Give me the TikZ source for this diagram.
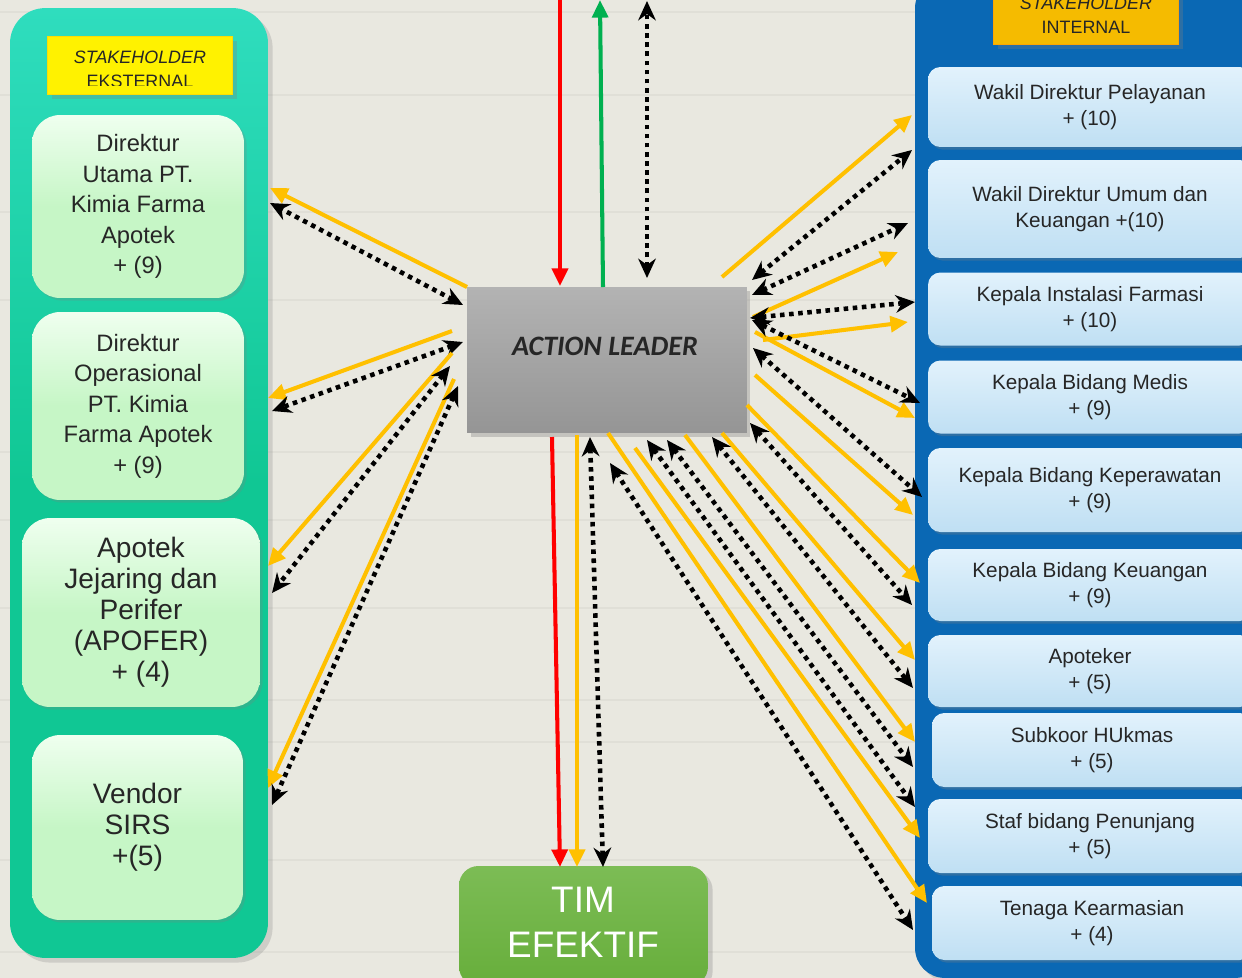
\documentclass[tikz,border=0pt]{standalone}
\usepackage{fontspec}
\setmainfont{Liberation Sans}
\newfontfamily\carlito{Carlito}
\usetikzlibrary{arrows.meta,calc,shadows}
\definecolor{bgc}{HTML}{E9E8E0}
\definecolor{woodline}{HTML}{E0DFD7}
\definecolor{lpanel}{HTML}{10C794}
\definecolor{lpaneltop}{HTML}{2FDDBE}
\definecolor{lboxc}{HTML}{C6F6C6}
\definecolor{lboxtop}{HTML}{EFFFEF}
\definecolor{rpanel}{HTML}{0A68B4}
\definecolor{rboxc}{HTML}{BFDFF3}
\definecolor{rboxtop}{HTML}{E2F2FC}
\definecolor{goldc}{HTML}{F5BB00}
\definecolor{labyel}{HTML}{FFF200}
\definecolor{arryel}{HTML}{FFC000}
\definecolor{altop}{HTML}{B3B3B3}
\definecolor{albot}{HTML}{959595}
\definecolor{timc}{HTML}{67AE3B}
\definecolor{timtop}{HTML}{7CBC55}
\definecolor{arrred}{HTML}{FF0000}
\definecolor{arrgreen}{HTML}{00B050}
\tikzset{
  lbox/.style={draw=none, rounded corners=16pt, top color=lboxtop, bottom color=lboxc, middle color=lboxc,
     align=center, font=\fontsize{13.5}{17.4}\selectfont, text=black!85,
     drop shadow={opacity=0.25, shadow xshift=1.5pt, shadow yshift=-1.5pt}},
  rbox/.style={draw=none, rounded corners=7pt, top color=rboxtop, bottom color=rboxc,
     align=center, font=\fontsize{11.8}{14.7}\selectfont, text=black!85,
     drop shadow={opacity=0.3, shadow xshift=1.5pt, shadow yshift=-1.5pt}},
  yarr/.style={draw=arryel, line width=2.3pt, arrows={-Triangle[length=10pt,width=9pt]}},
  darr/.style={draw=black, line width=2.6pt, dash pattern=on 2.6pt off 2.6pt,
     arrows={Stealth[length=11pt,width=10pt]-Stealth[length=11pt,width=10pt]}},
  rarr/.style={draw=arrred, line width=2.3pt, arrows={-Triangle[length=10pt,width=9pt]}},
  garr/.style={draw=arrgreen, line width=2.3pt, arrows={-Triangle[length=10pt,width=9pt]}}
}
\begin{document}
\begin{tikzpicture}[x=0.02cm,y=-0.02cm]
\clip (0,0) rectangle (1242,978);
\fill[bgc] (0,0) rectangle (1242,978);
\foreach \yy in {12,95,212,300,452,520,608,700,742,860,952}
  \draw[woodline, line width=1.2pt] (0,\yy) -- (1242,\yy);

% left panel
\node[draw=none, rounded corners=20pt, top color=lpaneltop, bottom color=lpanel, middle color=lpanel,
  minimum width=5.16cm, minimum height=19cm, drop shadow={opacity=0.25}] (lp) at (139,483) {};
% right panel
\node[draw=none, rounded corners=17pt, fill=rpanel, minimum width=7cm, minimum height=20cm,
  drop shadow={opacity=0.25}] (rp) at (1090,478) {};

% left label
\node[fill=labyel, draw=yellow!80!orange, minimum width=3.7cm, minimum height=1.16cm,
  drop shadow={opacity=0.3}] (ll) at (139.5,65) {};
\begin{scope}
\clip (48,37) rectangle (231,85);
\node[align=center, font=\fontsize{10.2}{13.8}\selectfont, text=black!85] (llt) at (140,69)
  {\itshape STAKEHOLDER\\ EKSTERNAL};
\end{scope}
% right label
\node[fill=goldc, draw=orange!70!yellow, minimum width=3.7cm, minimum height=1.2cm,
  drop shadow={opacity=0.3}] (rl) at (1085.5,14) {};
\node[align=center, font=\fontsize{10.2}{13.8}\selectfont, text=black!85] (rlt) at (1086,15)
  {\itshape STAKEHOLDER\\ INTERNAL};

% left boxes
\node[lbox, minimum width=4.24cm, minimum height=3.66cm] (e1) at (138,206.5)
  {Direktur\\ Utama PT.\\ Kimia Farma\\ Apotek\\ + (9)};
\node[lbox, minimum width=4.24cm, minimum height=3.76cm] (e2) at (138,406)
  {Direktur\\ Operasional\\ PT. Kimia\\ Farma Apotek\\ + (9)};
\node[lbox, minimum width=4.76cm, minimum height=3.78cm, font=\fontsize{16}{17.6}\selectfont] (e3) at (141,612.5)
  {Apotek\\ Jejaring dan\\ Perifer\\ (APOFER)\\ + (4)};
\node[lbox, minimum width=4.22cm, minimum height=3.7cm, font=\fontsize{16}{17.6}\selectfont] (e4) at (137.5,827.5)
  {Vendor\\ SIRS\\ +(5)};

% right boxes
\node[rbox, minimum width=6.48cm, minimum height=1.6cm] (i1) at (1090,107) {Wakil Direktur Pelayanan\\ + (10)};
\node[rbox, minimum width=6.48cm, minimum height=1.96cm] (i2) at (1090,209) {Wakil Direktur Umum dan\\ Keuangan +(10)};
\node[rbox, minimum width=6.48cm, minimum height=1.46cm] (i3) at (1090,309) {Kepala Instalasi Farmasi\\ + (10)};
\node[rbox, minimum width=6.48cm, minimum height=1.46cm] (i4) at (1090,397) {Kepala Bidang Medis\\ + (9)};
\node[rbox, minimum width=6.48cm, minimum height=1.68cm] (i5) at (1090,490) {Kepala Bidang Keperawatan\\ + (9)};
\node[rbox, minimum width=6.48cm, minimum height=1.44cm] (i6) at (1090,585) {Kepala Bidang Keuangan\\ + (9)};
\node[rbox, minimum width=6.48cm, minimum height=1.44cm] (i7) at (1090,671) {Apoteker\\ + (5)};
\node[rbox, minimum width=6.4cm, minimum height=1.48cm] (i8) at (1092,750) {Subkoor HUkmas\\ + (5)};
\node[rbox, minimum width=6.48cm, minimum height=1.48cm] (i9) at (1090,836) {Staf bidang Penunjang\\ + (5)};
\node[rbox, minimum width=6.4cm, minimum height=1.48cm] (i10) at (1092,923) {Tenaga Kearmasian\\ + (4)};

% action leader
\node[draw=none, top color=altop, bottom color=albot, minimum width=5.6cm, minimum height=2.92cm,
  drop shadow={opacity=0.35, shadow xshift=2pt, shadow yshift=-2pt}] (al) at (607,360) {};
\node[font=\carlito\bfseries\itshape\fontsize{16}{18}\selectfont, text=black!85] (alt) at (605,346) {ACTION LEADER};

% tim efektif
\node[draw=none, rounded corners=11pt, top color=timtop, bottom color=timc, minimum width=4.98cm, minimum height=2.4cm,
  drop shadow={opacity=0.3}] (tim) at (583.5,926) {};
\node[align=center, font=\fontsize{21}{25.5}\selectfont, text=white] (timt) at (583,922) {TIM\\ EFEKTIF};

% connectors
\foreach \n/\st/\sx/\sy/\ex/\ey in {
  yl1/yarr/467/287/270/188, dl1/darr/463/305/270/203,
  yl2/yarr/452/331/268/398, dl2/darr/463/342/272/411,
  yl3/yarr/452/353/268/566, dl3/darr/450/366/272/593,
  yl4/yarr/454/379/268/788, dl4/darr/458/386/272/805,
  yr1/yarr/722/277/912/115, dr1/darr/752/280/912/150,
  dr2/darr/752/295/908/223, yr2/yarr/753/317/898/252,
  yr3/yarr/763/340/908/322, dr3/darr/750/318/915/302,
  yr4/yarr/755/332/915/418, dr4/darr/752/320/920/403,
  yr5/yarr/755/375/913/515, dr5/darr/753/348/922/497,
  yr6/yarr/747/405/920/583, dr6/darr/750/423/912/605,
  yr7/yarr/722/433/915/660, dr7/darr/712/437/913/688,
  yr8/yarr/685/435/915/742, dr8/darr/667/440/913/767,
  yr9/yarr/635/448/920/838, dr9/darr/647/440/915/807,
  yr10/yarr/608/433/927/903, dr10/darr/610/463/913/930,
  rt/rarr/560/0/560/286, gt/garr/603/287/600/0, dt/darr/647/278/647/1,
  rb/rarr/552/437/560/867, yb/yarr/577/435/577/867, db/darr/590/437/603/867}
{
  \coordinate (\n s) at (\sx,\sy);
  \coordinate (\n e) at (\ex,\ey);
  \draw[\st] (\n s) -- (\n e);
}
\end{tikzpicture}
\end{document}
